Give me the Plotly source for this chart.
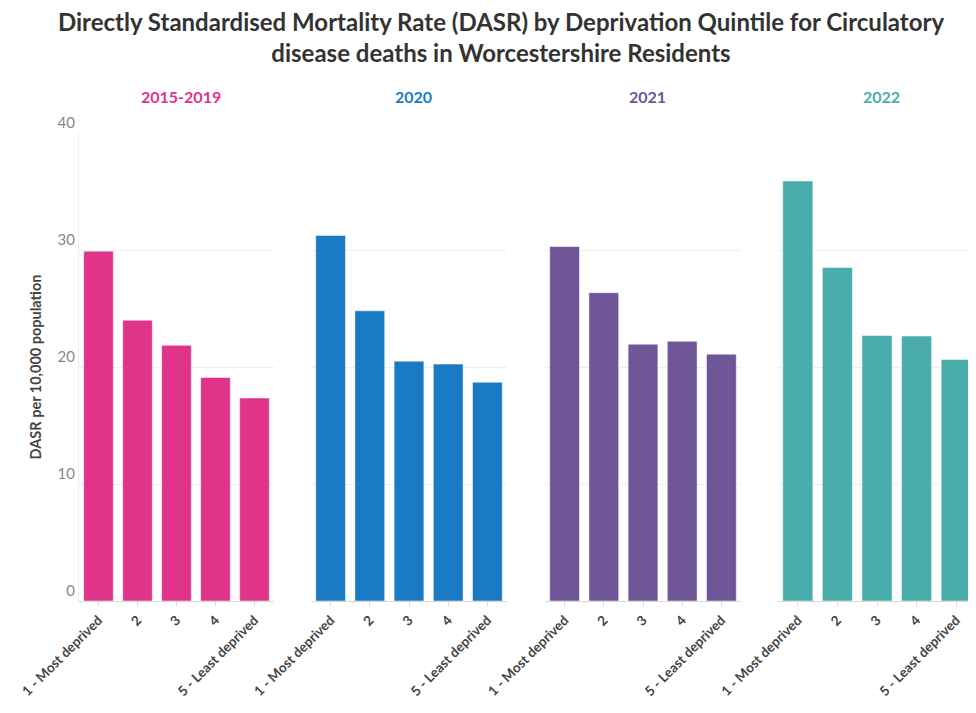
import plotly.graph_objects as go

categories = ["1 - Most deprived", "2", "3", "4", "5 - Least deprived"]
periods = ["2015-2019", "2020", "2021", "2022"]
vals_2015_2019 = [29.9, 24.0, 21.85, 19.1, 17.35]
vals_2020 = [31.25, 24.8, 20.5, 20.25, 18.7]
vals_2021 = [30.3, 26.35, 21.95, 22.2, 21.1]
vals_2022 = [35.9, 28.5, 22.7, 22.65, 20.65]
series = [vals_2015_2019, vals_2020, vals_2021, vals_2022]
colors = ["#e0338a", "#1a7bc4", "#6e5699", "#4aadac"]
y_ticks = [0, 10, 20, 30, 40]

FONT = "Lato"
OFF = 8  # page body margin
FW, FH = 976 - OFF, 713 - OFF
L, R, T, B = 79 - OFF, 0, 133 - OFF, 112
W = FW - L - R
panels_px = [(79, 274), (311, 507), (545, 741), (778, 976)]
domains = [[(a - 79) / W, min(1.0, (b - 79) / W)] for a, b in panels_px]

fig = go.Figure()
for i, (vals, col) in enumerate(zip(series, colors)):
    xa = "x" if i == 0 else f"x{i+1}"
    ya = "y" if i == 0 else f"y{i+1}"
    fig.add_trace(go.Bar(
        x=categories, y=vals, xaxis=xa, yaxis=ya,
        marker=dict(color=col, line=dict(color="rgba(255,255,255,0.5)", width=1)),
        showlegend=False, hovertemplate="%{x}: %{y}<extra>" + periods[i] + "</extra>",
    ))
    xkey = "xaxis" if i == 0 else f"xaxis{i+1}"
    ykey = "yaxis" if i == 0 else f"yaxis{i+1}"
    fig.layout[xkey] = dict(
        domain=domains[i], anchor=ya, type="category",
        tickangle=-45, ticks="outside", ticklen=5, tickcolor="#dddddd",
        tickfont=dict(family=FONT, size=13.5, color="#444444", weight="bold"),
        showgrid=False, showline=True, linecolor="#d8d8d8", linewidth=1,
        zeroline=False,
    )
    fig.layout[ykey] = dict(
        domain=[0, 1], anchor=xa, range=[0, 40], tickvals=y_ticks,
        showticklabels=(i == 0), ticklabelposition="outside top",
        tickfont=dict(family=FONT, size=15, color="#888888"),
        showgrid=True, gridcolor="#eeeeee", gridwidth=1, zeroline=False,
        showline=(i == 0), linecolor="#eeeeee", linewidth=1,
        ticks="",
        title=dict(text="DASR per 10,000 population",
                   font=dict(family=FONT, size=14.5, color="#444444", weight="bold"),
                   standoff=12) if i == 0 else None,
    )
    fig.add_annotation(
        text=f"<b>{periods[i]}</b>", xref="paper", yref="paper",
        x=(domains[i][0] + domains[i][1]) / 2 + 4 / W, y=1, yshift=37,
        showarrow=False, xanchor="center", yanchor="middle",
        font=dict(family=FONT, size=16, color=col),
    )

fig.update_layout(
    width=FW, height=FH,
    margin=dict(l=L, r=R, t=T, b=B),
    paper_bgcolor="white", plot_bgcolor="white",
    bargap=0.24,
    title=dict(
        text="<b>Directly Standardised Mortality Rate (DASR) by Deprivation Quintile for Circulatory<br>disease deaths in Worcestershire Residents</b>",
        x=(501 - OFF) / FW, xanchor="center", y=1 - (31 - OFF) / FH, yanchor="middle",
        font=dict(family=FONT, size=24, color="#333333"),
    ),
)

fig.write_html("out.html")
